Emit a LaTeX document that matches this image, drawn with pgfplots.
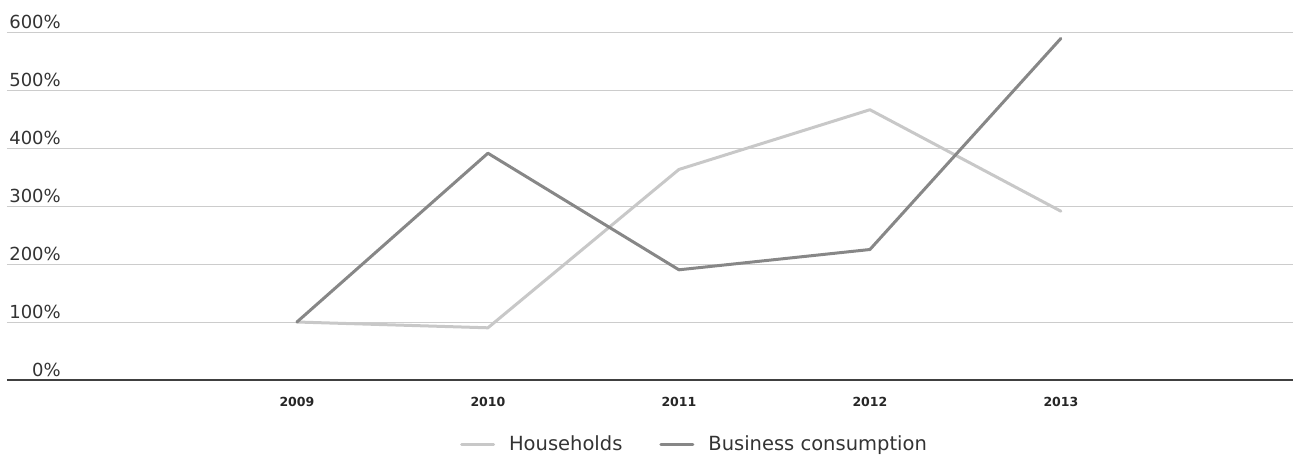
\documentclass[border=0pt]{standalone}
\usepackage{fontspec}
\setmainfont{DejaVu Sans}
\usepackage{pgfplots}
\pgfplotsset{compat=1.18}
\definecolor{hh}{HTML}{C8C8C8}
\definecolor{bc}{HTML}{878787}
\definecolor{grid}{HTML}{CCCCCC}
\definecolor{axl}{HTML}{404040}
\begin{document}
\begin{tikzpicture}
\begin{axis}[
  scale only axis,
  width=1286pt, height=348pt,
  xmin=-1.518, xmax=5.215,
  ymin=0, ymax=600,
  axis lines*=left,
  y axis line style={draw=none},
  x axis line style={draw=axl, line width=1.3pt},
  xtick={0,1,2,3,4},
  xticklabels={2009,2010,2011,2012,2013},
  ytick={0,100,200,300,400,500,600},
  yticklabels={0\%,100\%,200\%,300\%,400\%,500\%,600\%},
  major tick length=0pt,
  ymajorgrids,
  grid style={draw=grid, line width=1pt},
  yticklabel style={anchor=south east, inner sep=0pt, xshift=54pt, yshift=3pt,
    font=\fontsize{18}{20}\selectfont, text=black!80},
  xticklabel style={anchor=north, inner sep=0pt, yshift=-17pt,
    font=\bfseries\fontsize{12.5}{15}\selectfont, text=black!85},
  clip=false,
  legend columns=-1,
  legend image code/.code={\draw[#1] (0pt,0pt) -- (32pt,0pt);},
  legend style={at={(0.5338,-0.184)}, anchor=center, draw=none, fill=none,
    inner sep=0pt, font=\fontsize{19.5}{22}\selectfont, text=black!80,
    nodes={inner sep=0pt},
    /tikz/every odd column/.append style={column sep=14pt},
    /tikz/every even column/.append style={column sep=37pt}},
]
\addplot[hh, line width=3pt, line join=round, line cap=round] coordinates {
  (0,100) (1,90) (2,363) (3,466) (4,291)};
\addlegendentry{Households}
\addplot[bc, line width=3pt, line join=round, line cap=round] coordinates {
  (0,100) (1,391) (2,190) (3,225) (4,589)};
\addlegendentry{Business consumption}
\end{axis}
\pgfresetboundingbox
\path[use as bounding box] (-7pt,-76pt) rectangle (1286pt,380pt);
\end{tikzpicture}
\end{document}
